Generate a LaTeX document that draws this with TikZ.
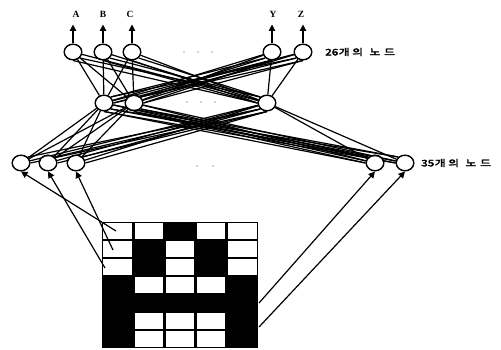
\documentclass[tikz,border=0pt]{standalone}
\usepackage{fontspec}
\setmainfont{Liberation Serif}
\newfontfamily\krfont[FakeBold=3]{Noto Sans CJK KR}
\usetikzlibrary{arrows.meta,shapes.geometric}
\begin{document}
\begin{tikzpicture}[x=1pt,y=-1pt,
  neuron/.style={ellipse, draw, line width=1.5pt, minimum width=17.5pt, minimum height=15.5pt, inner sep=0pt},
  wire/.style={line width=1.2pt},
  feed/.style={line width=1.2pt, -{Triangle[length=6.5pt,width=6.5pt]}},
  outlabel/.style={font=\fontsize{9.5}{10}\selectfont\bfseries, inner sep=0pt},
  kor/.style={font=\krfont\fontsize{9}{10}\selectfont, inner sep=0pt, anchor=west, xscale=1.3, transform shape},
  dotmark/.style={circle, fill=black!70, inner sep=0pt, minimum size=1.1pt}
]
\useasboundingbox (0,0) rectangle (501,350);

% output layer
\node[neuron] (o1) at (73,52) {};
\node[neuron] (o2) at (103,52) {};
\node[neuron] (o3) at (132,52) {};
\node[neuron] (o4) at (272,52) {};
\node[neuron] (o5) at (303,52) {};
% hidden layer
\node[neuron] (h1) at (104,103) {};
\node[neuron] (h2) at (134,103) {};
\node[neuron] (h3) at (267,103) {};
% input layer
\node[neuron] (i1) at (21,163) {};
\node[neuron] (i2) at (48,163) {};
\node[neuron] (i3) at (76,163) {};
\node[neuron] (i4) at (375,163) {};
\node[neuron] (i5) at (405,163) {};

\node[kor] (lo) at (325,52) {26\hspace{0.5pt}개\hspace{2pt}의\hspace{5pt}노\hspace{3pt}드};
\node[kor] (li) at (421,163) {35\hspace{0.5pt}개\hspace{2pt}의\hspace{5pt}노\hspace{3pt}드};

% hidden -> output connections
\foreach \h in {h1,h2,h3} \foreach \o in {o1,o2,o3,o4,o5}
  \draw[wire] (\h) -- (\o);
% extra strands of the long crossing bundles
\foreach \h in {h1,h2} \foreach \o in {o4,o5} {
  \draw[wire] (\h.north east) -- (\o.south west);
  \draw[wire] (\h.east) -- (\o.south);
}
\foreach \o in {o1,o2,o3} {
  \draw[wire] (h3.north west) -- (\o.south east);
  \draw[wire] (h3.west) -- (\o.south);
}

% input -> hidden connections
\foreach \i in {i1,i2,i3,i4,i5} \foreach \h in {h1,h2,h3}
  \draw[wire] (\i) -- (\h);
\foreach \i in {i1,i2,i3} {
  \draw[wire] (\i.north east) -- (h3.south west);
  \draw[wire] (\i.east) -- (h3.south);
}
\foreach \i in {i4,i5} \foreach \h in {h1,h2} {
  \draw[wire] (\i.north west) -- (\h.south east);
  \draw[wire] (\i.west) -- (\h.south);
}

% clear the inside of every neuron
\foreach \n in {o1,o2,o3,o4,o5,h1,h2,h3,i1,i2,i3,i4,i5}
  \fill[white] (\n) ellipse (7.7pt and 6.7pt);

% output arrows and letters
\foreach \n/\t/\x in {o1/A/76,o2/B/103,o3/C/130,o4/Y/273,o5/Z/301} {
  \coordinate (\n top) at ([yshift=19pt]\n.north);
  \draw[feed] (\n.north) -- (\n top);
  \node[outlabel] (\n lab) at (\x,14) {\t};
}

% ellipsis dots
\foreach \x in {184,198,212} \node[dotmark] (do\x) at (\x,52) {};
\foreach \x in {187,201,215} \node[dotmark] (dh\x) at (\x,102) {};
\foreach \x in {197,213} \node[dotmark] (di\x) at (\x,166) {};

% input pattern: 5 x 7 grid showing the letter A
\fill[black] (102,222) rectangle (258,348);
\def\cw{31.2}
\def\ch{18}
\foreach \r/\row in {0/{1,1,0,1,1},1/{1,0,1,0,1},2/{1,0,1,0,1},3/{0,1,1,1,0},4/{0,0,0,0,0},5/{0,1,1,1,0},6/{0,1,1,1,0}} {
  \foreach \v [count=\c from 0] in \row {
    \ifnum\v=1
      \fill[white] ({102+\c*\cw+1.4},{222+\r*\ch+1.4}) rectangle ({102+(\c+1)*\cw-1.4},{222+(\r+1)*\ch-1.4});
    \fi
  }
}
\coordinate (c00) at (116,231);
\coordinate (c10) at (113,250);
\coordinate (c20) at (105,268);
\coordinate (c44) at (259,303);
\coordinate (c54) at (259,327);

% pattern -> input arrows
\draw[feed] (c00) -- (i1.south);
\draw[feed] (c20) -- (i2.south);
\draw[feed] (c10) -- (i3.south);
\draw[feed] (c44) -- (i4.south);
\draw[feed] (c54) -- (i5.south);
\end{tikzpicture}
\end{document}
